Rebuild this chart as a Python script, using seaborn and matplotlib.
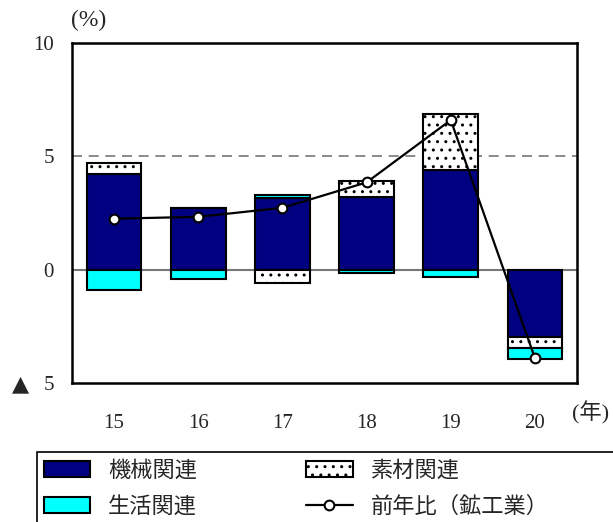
import matplotlib
matplotlib.use("Agg")
import matplotlib.pyplot as plt
from matplotlib.patches import Rectangle
import seaborn as sns
import numpy as np

years = ["15", "16", "17", "18", "19", "20"]
kikai = [4.2, 2.7, 3.15, 3.2, 4.4, -2.95]     # 機械関連
sozai = [0.5, 0.0, -0.6, 0.7, 2.45, -0.5]     # 素材関連
seikatsu = [-0.9, -0.4, 0.15, -0.15, -0.33, -0.5]  # 生活関連
yoy = [2.25, 2.33, 2.73, 3.85, 6.6, -3.9]     # 前年比（鉱工業）

sns.set_style("white")
plt.rcParams['font.family'] = ['Liberation Serif', 'Noto Sans CJK JP', 'DejaVu Sans']
plt.rcParams['hatch.linewidth'] = 1.0
plt.rcParams['hatch.color'] = '#444444'

fig = plt.figure(figsize=(6.13, 5.22), dpi=100)
ax = fig.add_axes([72 / 613, 1 - 383 / 522, 505 / 613, 340 / 522])

x = np.arange(len(years))
pos = np.zeros(len(years))
neg = np.zeros(len(years))
series = [
    (kikai, dict(color='#000080', label='機械関連')),
    (sozai, dict(color='white', hatch='..', label='素材関連')),
    (seikatsu, dict(color='#00FFFF', label='生活関連')),
]
handles = {}
for vals, style in series:
    v = np.array(vals)
    bottom = np.where(v >= 0, pos, neg)
    b = ax.bar(x, v, bottom=bottom, width=0.65, edgecolor='black',
               linewidth=1.5, zorder=3, **style)
    handles[style['label']] = b
    pos += np.where(v >= 0, v, 0)
    neg += np.where(v < 0, v, 0)

ax.axhline(0, color='#777777', lw=1.5, zorder=2)
ax.axhline(5, color='#777777', lw=1.2, ls=(0, (6, 4)), zorder=2)

sns.lineplot(x=x, y=yoy, ax=ax, color='black', lw=1.6, marker='o',
             markersize=7, markerfacecolor='white', markeredgecolor='black',
             markeredgewidth=1.5, zorder=5, label='前年比（鉱工業）')
line_handle = ax.get_lines()[-1]
ax.get_legend().remove()

ax.set_xlim(-0.5, 5.5)
ax.set_ylim(-5, 10)
ax.set_xticks(x)
ax.set_xticklabels(years, fontsize=15)
ax.set_yticks([-5, 0, 5, 10])
ax.set_yticklabels(['5', '0', '5', '10'], fontsize=15)
ax.tick_params(axis='y', direction='in', length=7, width=1.5, pad=13)
ax.tick_params(axis='x', length=0, pad=22)
for s in ax.spines.values():
    s.set_linewidth(1.8)
    s.set_color('black')

# 負の値を表す▲
fig.text(20 / 613, 1 - 384 / 522, '▲', fontsize=16, ha='center', va='center',
         family=['DejaVu Sans'])
fig.text(89 / 613, 1 - 20 / 522, '(%)', fontsize=17, ha='center', va='center')
fig.text(591 / 613, 1 - 413 / 522, '(年)', fontsize=16, ha='center', va='center',
         family=['Liberation Serif', 'Noto Sans CJK JP'])

# 凡例の枠（図の右下にはみ出す）
fig.patches.append(Rectangle((37 / 613, -0.1), 1.0, (1 - 452 / 522) + 0.1,
                             transform=fig.transFigure, fill=False,
                             edgecolor='black', lw=1.2))
leg = fig.legend([handles['機械関連'], handles['生活関連'], handles['素材関連'], line_handle],
                 ['機械関連', '生活関連', '素材関連', '前年比（鉱工業）'],
                 ncol=2, loc='upper left', bbox_to_anchor=(37 / 613, 1 - 452 / 522),
                 frameon=False,
                 prop={'family': ['Noto Sans CJK JP'], 'size': 16},
                 handlelength=2.1, handleheight=0.7, borderpad=0.3, labelspacing=0.6,
                 handletextpad=0.8, columnspacing=4.9, borderaxespad=0)

fig.savefig('out.png', dpi=100)
